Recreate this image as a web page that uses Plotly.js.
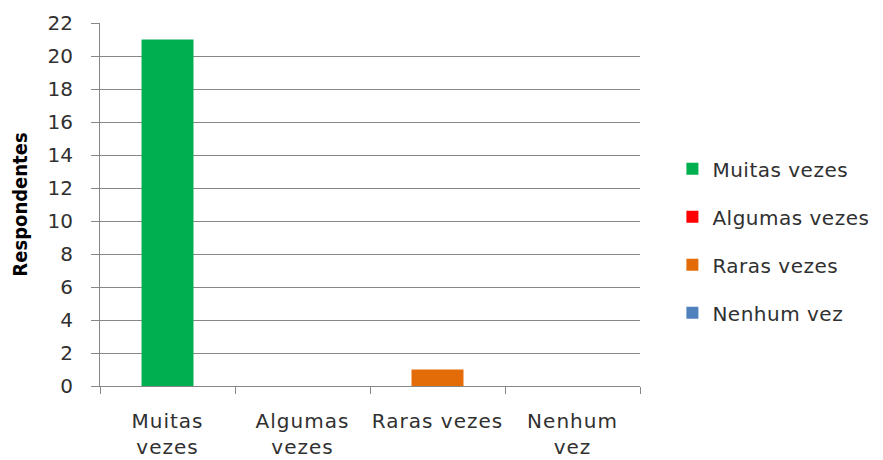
<!DOCTYPE html>
<html>
<head>
<meta charset="utf-8">
<script src="https://cdn.plot.ly/plotly-3.0.1.min.js"></script>
<style>
html,body{margin:0;padding:0;background:#fff;}
#chart{width:883px;height:460px;}
#chart .xtick text { letter-spacing: 1px; }
#chart .legendtext { letter-spacing: 0.5px; }
</style>
</head>
<body>
<div id="chart"></div>
<script>
const categories = ["Muitas vezes", "Algumas vezes", "Raras vezes", "Nenhum vez"];
const tickLabels = ["Muitas<br>vezes", "Algumas<br>vezes", "Raras vezes", "Nenhum<br>vez"];
const values = [21, 0, 1, 0];
const colors = ["#00B050", "#FF0000", "#E36C09", "#4F81BD"];
const yTitle = "Respondentes";

const traces = categories.map((c, i) => ({
  type: "bar",
  name: c,
  x: [categories[i]],
  y: [values[i]],
  width: 0.385,
  marker: {color: colors[i]},
  legendgroup: "g" + i,
  hoverinfo: "x+y"
}));

const font = "DejaVu Sans, sans-serif";
const txt = "#303030";
const layout = {
  width: 883, height: 460,
  margin: {l: 100, r: 243, t: 23, b: 74},
  paper_bgcolor: "#fff", plot_bgcolor: "#fff",
  barmode: "overlay",
  showlegend: true,
  font: {family: font, size: 20, color: txt},
  xaxis: {
    type: "category",
    categoryorder: "array", categoryarray: categories,
    tickvals: categories, ticktext: tickLabels,
    tickson: "boundaries",
    tickangle: 0,
    automargin: false,
    ticks: "outside", ticklen: 7, tickcolor: "#868686", tickwidth: 1,
    showline: true, linecolor: "#868686", linewidth: 1,
    showgrid: false, zeroline: false,
    tickfont: {family: font, size: 20, color: txt},
    ticklabelstandoff: 17
  },
  yaxis: {
    range: [0, 22], dtick: 2, tick0: 0,
    automargin: false,
    ticks: "outside", ticklen: 8, tickcolor: "#868686",
    showline: true, linecolor: "#868686", linewidth: 1,
    showgrid: true, gridcolor: "#868686", gridwidth: 1,
    zeroline: false,
    tickfont: {family: font, size: 20, color: txt},
    ticklabelstandoff: 14,
    title: {text: "<b>" + yTitle + "</b>", font: {family: "DejaVu Sans Condensed, DejaVu Sans, sans-serif", size: 20, color: "#000"}, standoff: 14}
  },
  legend: {
    x: 1.06, xanchor: "left", y: 0.40, yanchor: "middle",
    font: {family: font, size: 20, color: txt},
    traceorder: "grouped", tracegroupgap: 19,
    itemwidth: 30,
    bgcolor: "rgba(0,0,0,0)"
  }
};
Plotly.newPlot("chart", traces, layout, {displayModeBar: false, staticPlot: true});
</script>
</body>
</html>
